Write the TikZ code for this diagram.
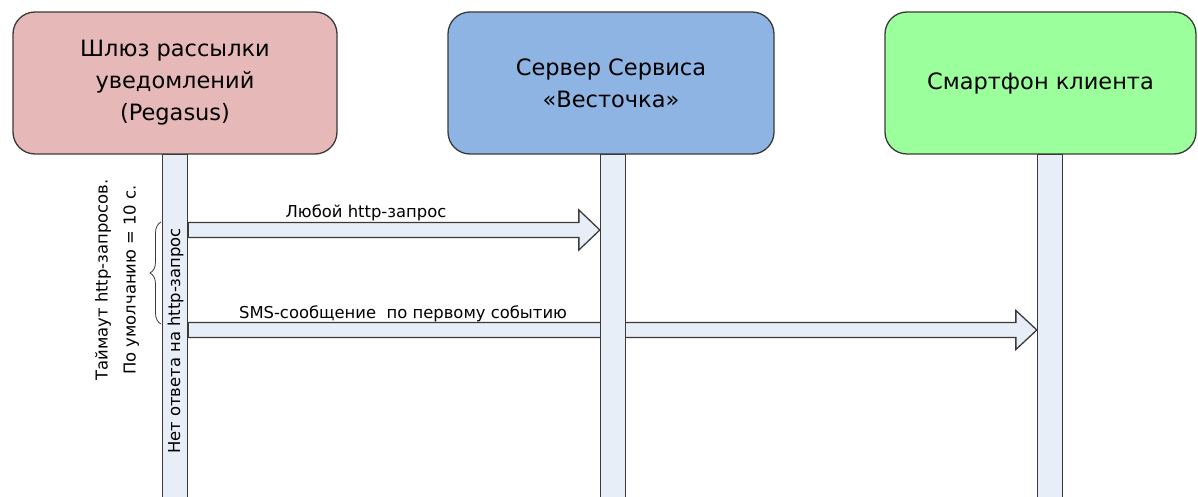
\documentclass[tikz,border=0pt]{standalone}
\usepackage{fontspec}
\setmainfont{DejaVu Sans}
\usetikzlibrary{calc,decorations.pathreplacing}
\definecolor{pinkfill}{HTML}{E6B9B8}
\definecolor{bluefill}{HTML}{8EB4E3}
\definecolor{greenfill}{HTML}{9BFF9B}
\definecolor{lanefill}{HTML}{E8EEF7}
\definecolor{edgecol}{HTML}{3A3A3A}
\pgfdeclarelayer{bg}
\pgfsetlayers{bg,main}
\begin{document}
\begin{tikzpicture}[x=1pt,y=1pt,
  actor/.style={draw=edgecol, line width=1.3pt, rounded corners=22pt, minimum height=142pt,
    align=center, font=\fontsize{22.5}{32}\selectfont, inner sep=0pt},
  lifeline/.style={draw=edgecol, fill=lanefill, line width=1.3pt, minimum width=25pt,
    anchor=north, minimum height=360pt, inner sep=0pt},
  blockarrow/.style={draw=edgecol, fill=lanefill, line width=1.3pt, line join=miter},
  lbl/.style={font=\fontsize{16.4}{19}\selectfont, inner sep=0pt},
  bracestyle/.style={draw=edgecol, line width=0.8pt, decorate, decoration={brace, amplitude=11pt}}
]
\path[use as bounding box] (0,0) rectangle (1198,496);
\clip (0,0) rectangle (1198,496);

% actors
\node[actor, fill=pinkfill, minimum width=324pt] (b1) at (175,413) {Шлюз рассылки\\уведомлений\\(Pegasus)};
\node[actor, fill=bluefill, minimum width=326pt] (b2) at (611,413) {Сервер Сервиса\\«Весточка»};
\node[actor, fill=greenfill, minimum width=311pt] (b3) at (1040.5,413) {Смартфон клиента};

% lifelines
\node[lifeline] (l1) at (175,342) {};
\node[lifeline] (l2) at (613,342) {};
\node[lifeline] (l3) at (1050,342) {};

\coordinate (y1) at (0,266);
\coordinate (y2) at (0,166);

\begin{pgfonlayer}{bg}
\draw[blockarrow] let \p1=(l1.east |- y1), \p2=(l2.west |- y1) in
  (\x1,\y1+7.5pt) -- (\x2-21pt,\y1+7.5pt) -- (\x2-21pt,\y1+20pt) -- (\x2,\y1)
  -- (\x2-21pt,\y1-20pt) -- (\x2-21pt,\y1-7.5pt) -- (\x1,\y1-7.5pt) -- cycle;
\draw[blockarrow] let \p1=(l1.east |- y2), \p2=(l3.west |- y2) in
  (\x1,\y1+7.5pt) -- (\x2-21pt,\y1+7.5pt) -- (\x2-21pt,\y1+19.5pt) -- (\x2,\y1)
  -- (\x2-21pt,\y1-19.5pt) -- (\x2-21pt,\y1-7.5pt) -- (\x1,\y1-7.5pt) -- cycle;
\end{pgfonlayer}

% labels
\node[lbl, anchor=base] (m1) at (366,279) {Любой http-запрос};
\node[lbl, anchor=base] (m2) at (403,178) {SMS-сообщение\ \ по первому событию};
\node[lbl, rotate=90] (t1) at (175.5,155) {Нет ответа на http-запрос};
\node[lbl, rotate=90, align=center, font=\fontsize{16.4}{28}\selectfont] (note) at (117,216)
  {Таймаут http-запросов.\\По умолчанию = 10 с.};
\coordinate (brb) at (161,172);
\coordinate (brt) at (161,274);
\draw[bracestyle] (brb) -- (brt);
\end{tikzpicture}
\end{document}
